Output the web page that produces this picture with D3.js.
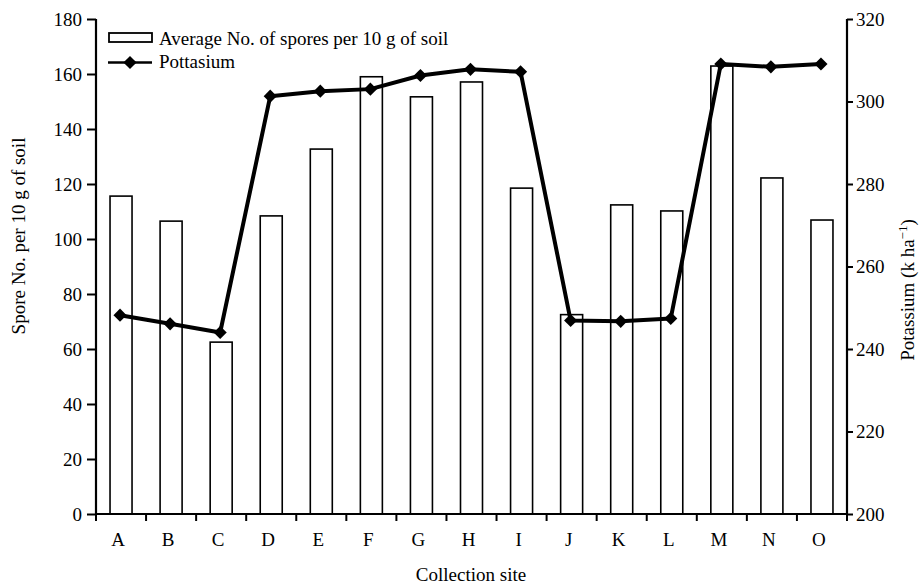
<!DOCTYPE html>
<html><head><meta charset="utf-8">
<script src="https://cdn.jsdelivr.net/npm/d3@7"></script>
<style>body{margin:0;background:#fff}svg{display:block}
svg text{font-family:"Liberation Serif","Tinos","DejaVu Serif",serif !important;fill:#000}</style>
</head><body><svg id="c" width="922" height="584"></svg>
<script>
const sites = ["A","B","C","D","E","F","G","H","I","J","K","L","M","N","O"];
const spores = [115.6,106.5,62.5,108.4,132.7,159,151.7,157.1,118.5,72.5,112.4,110.2,162.9,122.2,106.9];
const potassium = [248.2,246.1,244.0,301.3,302.5,303.0,306.3,307.8,307.2,246.9,246.7,247.4,309.1,308.4,309.1];
const leftTicks = [0,20,40,60,80,100,120,140,160,180];
const rightTicks = [200,220,240,260,280,300,320];

const svg = d3.select("#c");
const L = 96, R = 847, T = 19, B = 514;
const x = d3.scaleBand().domain(sites).range([L, R]);
const yL = d3.scaleLinear().domain([0,180]).range([B, T]);
const yR = d3.scaleLinear().domain([200,320]).range([B, T]);
const fs = 19;
const FF = '"Liberation Serif","Tinos","DejaVu Serif",serif';

// bars
svg.append("g").selectAll("rect").data(sites).join("rect")
  .attr("x", (d,i) => x(d) + x.bandwidth()/2 - 11)
  .attr("y", (d,i) => yL(spores[i]))
  .attr("width", 22)
  .attr("height", (d,i) => B - yL(spores[i]))
  .attr("fill", "#fff").attr("stroke", "#000").attr("stroke-width", 1.6);

// axes
const gL = svg.append("g").attr("transform", `translate(${L},0)`)
  .call(d3.axisLeft(yL).tickValues(leftTicks).tickSize(9).tickPadding(5).tickFormat(d3.format("d")));
const gR = svg.append("g").attr("transform", `translate(${R},0)`)
  .call(d3.axisRight(yR).tickValues(rightTicks).tickSize(6).tickPadding(3).tickFormat(d3.format("d")));
const gB = svg.append("g").attr("transform", `translate(0,${B})`)
  .call(d3.axisBottom(x).tickSize(0).tickPadding(19));
// boundary ticks on x-axis
svg.append("g").selectAll("line").data(d3.range(sites.length + 1)).join("line")
  .attr("x1", i => L + i * x.step()).attr("x2", i => L + i * x.step())
  .attr("y1", B).attr("y2", B + 7).attr("stroke", "#000").attr("stroke-width", 2);

[gL, gR, gB].forEach(g => {
  g.attr("font-family", FF);
  g.select(".domain").attr("stroke", "#000").attr("stroke-width", 2.2);
  g.selectAll(".tick line").attr("stroke", "#000").attr("stroke-width", 2);
  g.selectAll("text").attr("font-size", fs).style("font-family", FF).attr("fill", "#000");
});
gL.select(".domain").attr("d", `M0,${B}V${T}`);
gR.select(".domain").attr("d", `M0,${B}V${T}`);
gB.select(".domain").attr("d", `M${L},0H${R}`);
gB.selectAll(".tick text").attr("dx", -3);

// line
const line = d3.line().x((d,i) => x(sites[i]) + x.bandwidth()/2 - 1).y(d => yR(d));
svg.append("path").datum(potassium).attr("d", line)
  .attr("fill", "none").attr("stroke", "#000").attr("stroke-width", 4).attr("stroke-linejoin", "round");
const diamond = d3.symbol().type(d3.symbolDiamond2).size(110);
svg.append("g").selectAll("path").data(potassium).join("path")
  .attr("transform", (d,i) => `translate(${x(sites[i]) + x.bandwidth()/2 - 1},${yR(d)})`)
  .attr("d", diamond).attr("fill", "#000");

// axis titles
svg.append("text").attr("transform", "translate(25,236) rotate(-90)")
  .attr("text-anchor", "middle").attr("font-size", fs).style("font-family", FF).text("Spore No. per 10 g of soil");
const rt = svg.append("text").attr("transform", "translate(914,290) rotate(-90)")
  .attr("text-anchor", "middle").attr("font-size", fs).style("font-family", FF);
rt.append("tspan").text("Potassium (k ha");
rt.append("tspan").attr("dy", -7).attr("font-size", 13).text("\u22121");
rt.append("tspan").attr("dy", 7).text(")");
svg.append("text").attr("x", 471).attr("y", 581).attr("text-anchor", "middle")
  .attr("font-size", fs).style("font-family", FF).text("Collection site");

// legend
const lg = svg.append("g");
lg.append("rect").attr("x", 109).attr("y", 33).attr("width", 43).attr("height", 9)
  .attr("fill", "#fff").attr("stroke", "#000").attr("stroke-width", 1.8);
lg.append("text").attr("x", 159).attr("y", 45).attr("font-size", fs).style("font-family", FF).text("Average No. of spores per 10 g of soil");
lg.append("line").attr("x1", 108).attr("x2", 152).attr("y1", 62.5).attr("y2", 62.5)
  .attr("stroke", "#000").attr("stroke-width", 2.5);
lg.append("path").attr("transform", "translate(130,62.5)").attr("d", diamond).attr("fill", "#000");
lg.append("text").attr("x", 159).attr("y", 68).attr("font-size", fs).style("font-family", FF).text("Pottasium");
</script></body></html>
